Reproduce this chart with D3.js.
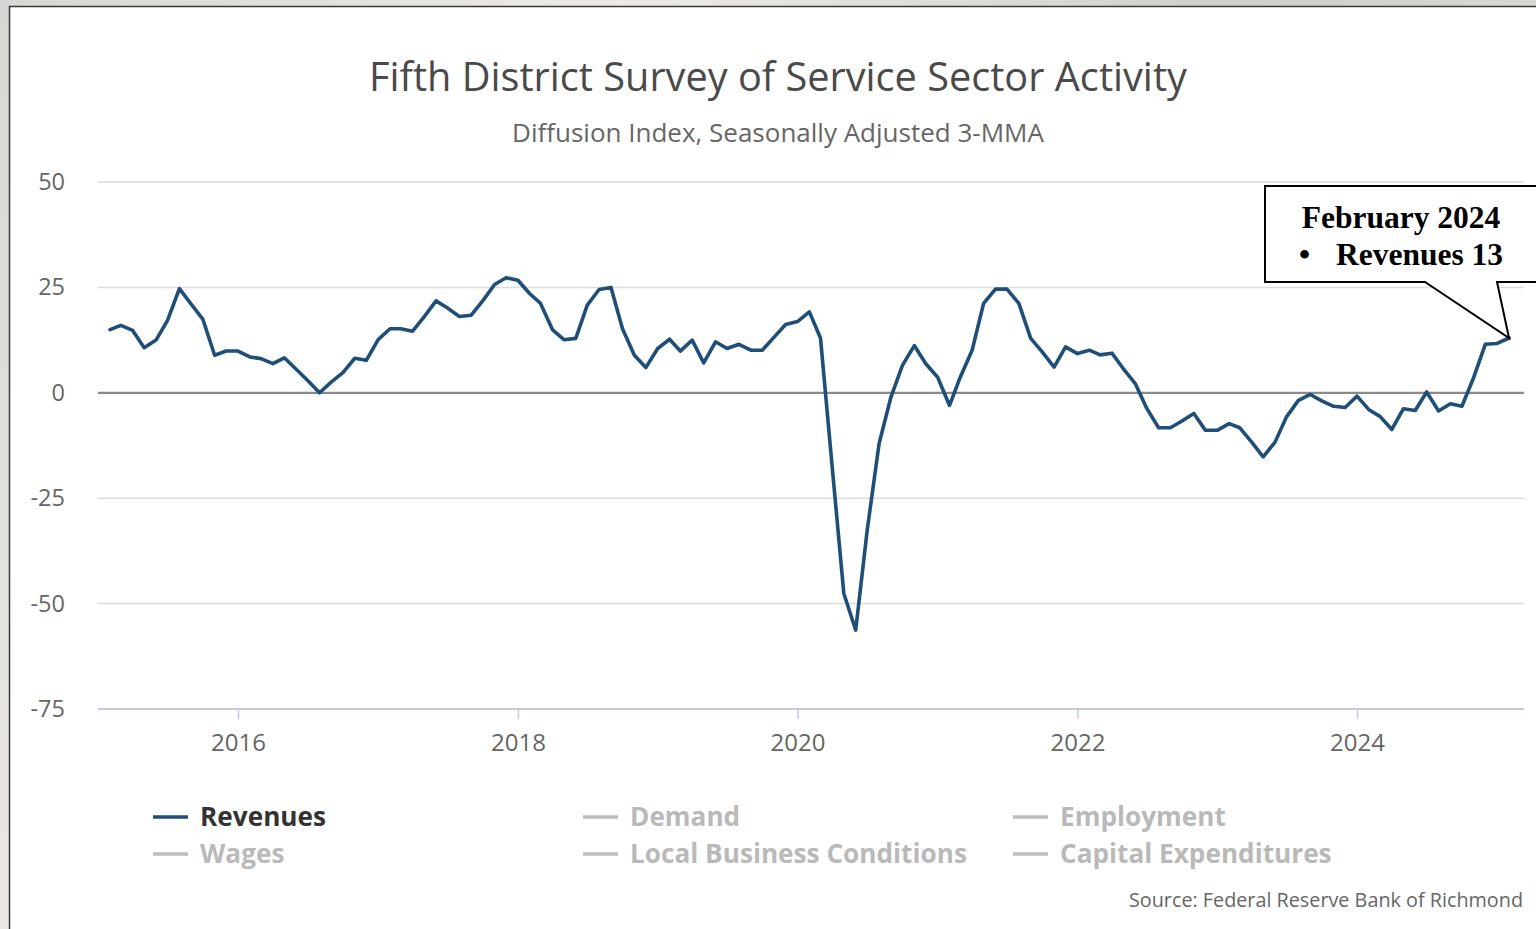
<!DOCTYPE html>
<html>
<head>
<meta charset="utf-8">
<script src="https://cdn.jsdelivr.net/npm/d3@7/dist/d3.min.js"></script>
<style>
  html, body { margin: 0; padding: 0; }
  body { width: 1536px; height: 929px; overflow: hidden;
         background: linear-gradient(120deg, #d6d6d4 0%, #ecebe8 30%, #cfcfcc 60%, #e6e5e2 100%); }
  svg { display: block; }
</style>
</head>
<body>
<svg id="chart" width="1536" height="929"></svg>
<script>
// Monthly Revenues diffusion index (3-month moving average), Feb 2015 – Feb 2025
const startMonth = [2015, 1]; // year, zero-based month (February)
const revenues = [
  15, 16, 14.8, 10.7, 12.5, 17.2, 24.7, 21, 17.5, 8.9, 9.9, 9.9,
  8.5, 8.1, 6.9, 8.3, 5.6, 2.9, 0, 2.6, 4.8, 8.2, 7.7, 12.6,
  15.2, 15.2, 14.6, 18, 21.8, 20.1, 18.1, 18.4, 21.8, 25.7, 27.3, 26.7,
  23.5, 21.2, 15, 12.6, 12.9, 20.8, 24.5, 25, 15.2, 8.9, 6, 10.5,
  12.7, 9.9, 12.5, 7.1, 12.1, 10.5, 11.5, 10.1, 10.1, 13.2, 16.2, 16.9,
  19.2, 13, -18, -47.6, -56.3, -32.6, -12.1, -1, 6.5, 11.2, 6.9, 3.7,
  -3, 3.7, 10.1, 21.2, 24.6, 24.6, 21.2, 12.9, 9.7, 6.1, 10.9, 9.3,
  10.1, 9, 9.4, 5.7, 2.2, -3.7, -8.3, -8.3, -6.7, -4.9, -8.9, -8.9,
  -7.3, -8.3, -11.7, -15.2, -11.7, -5.7, -1.8, -0.4, -1.9, -3.2, -3.5, -0.8,
  -4, -5.6, -8.7, -3.8, -4.2, 0.2, -4.3, -2.6, -3.2, 3.7, 11.5, 11.7,
  13
];
const yTicks = [50, 25, 0, -25, -50, -75];
const xTickYears = [2016, 2018, 2020, 2022, 2024];
const legendRows = [
  ["Revenues", "Demand", "Employment"],
  ["Wages", "Local Business Conditions", "Capital Expenditures"]
];
const activeSeries = "Revenues";
const titleText = "Fifth District Survey of Service Sector Activity";
const subtitleText = "Diffusion Index, Seasonally Adjusted 3-MMA";
const sourceText = "Source: Federal Reserve Bank of Richmond";
const calloutLines = ["February 2024", "Revenues 13"];

const data = revenues.map((v, i) => ({ date: new Date(startMonth[0], startMonth[1] + i, 1), value: v }));

const svg = d3.select("#chart");
const plotLeft = 98, plotRight = 1524;
const lineColor = "#1f4f78";
const sans = "'Open Sans', 'Noto Sans', sans-serif";

// White card
svg.append("rect").attr("x", 9.5).attr("y", 6.5).attr("width", 1540).attr("height", 940)
  .attr("fill", "#ffffff").attr("stroke", "#3a3a3a").attr("stroke-width", 1.5);

const x = d3.scaleTime()
  .domain([new Date(2016, 0, 1), new Date(2024, 0, 1)])
  .range([238, 1357]);
const y = d3.scaleLinear().domain([-75, 50]).range([709, 182]);

// Title block
svg.append("text").attr("x", 778).attr("y", 91).attr("text-anchor", "middle")
  .attr("font-family", sans).attr("font-size", 39.7).attr("fill", "#4a4a4a").text(titleText);
svg.append("text").attr("x", 778).attr("y", 142).attr("text-anchor", "middle")
  .attr("font-family", sans).attr("font-size", 26).attr("fill", "#666666").text(subtitleText);

// Horizontal grid + y labels
const grid = svg.append("g");
yTicks.forEach(t => {
  if (t !== -75) {
    grid.append("line").attr("x1", plotLeft).attr("x2", plotRight)
      .attr("y1", y(t)).attr("y2", y(t))
      .attr("stroke", t === 0 ? "#8a8a8a" : "#dcdcdc")
      .attr("stroke-width", t === 0 ? 2.2 : 1.5);
  }
  grid.append("text").attr("x", 65).attr("y", y(t) + 8).attr("text-anchor", "end")
    .attr("font-family", sans).attr("font-size", 23.5).attr("fill", "#666666")
    .text(t);
});

// X axis
const xAxis = d3.axisBottom(x)
  .tickValues(xTickYears.map(yr => new Date(yr, 0, 1)))
  .tickFormat(d3.timeFormat("%Y"))
  .tickSize(10).tickSizeOuter(0);
const gx = svg.append("g").attr("transform", `translate(0,${y(-75)})`).call(xAxis);
gx.select(".domain").remove();
gx.selectAll(".tick line").attr("stroke", "#c3cbe0").attr("stroke-width", 1.5);
gx.selectAll(".tick text").attr("font-family", sans).attr("font-size", 24)
  .attr("fill", "#666666").attr("dy", 0).attr("y", 42);
svg.append("line").attr("x1", plotLeft).attr("x2", plotRight)
  .attr("y1", y(-75)).attr("y2", y(-75)).attr("stroke", "#c3cbe0").attr("stroke-width", 1.8);

// Revenues line
const line = d3.line().x(d => x(d.date)).y(d => y(d.value));
svg.append("path").datum(data).attr("d", line)
  .attr("fill", "none").attr("stroke", lineColor).attr("stroke-width", 3.6)
  .attr("stroke-linejoin", "round").attr("stroke-linecap", "round");

// Legend
const legendX = [153, 583, 1013];
const legendY = [817, 854];
legendRows.forEach((row, r) => {
  row.forEach((name, c) => {
    const on = name === activeSeries;
    const g = svg.append("g").attr("transform", `translate(${legendX[c]},${legendY[r]})`);
    g.append("line").attr("x1", 0).attr("x2", 35).attr("y1", 0).attr("y2", 0)
      .attr("stroke", on ? lineColor : "#bdbdbd").attr("stroke-width", 3.5);
    g.append("text").attr("x", 47).attr("y", 9)
      .attr("font-family", sans).attr("font-weight", 700).attr("font-size", 26.2)
      .attr("fill", on ? "#333333" : "#b9b9b9").text(name);
  });
});

// Source
svg.append("text").attr("x", 1523).attr("y", 907).attr("text-anchor", "end")
  .attr("font-family", sans).attr("font-size", 19.8).attr("fill", "#666666").text(sourceText);

// Callout for the latest reading
const last = data[data.length - 1];
const tipX = x(last.date), tipY = y(last.value);
svg.append("path")
  .attr("d", `M1265,186 H1540 V282 H1497 L${tipX},${tipY} L1425,282 H1265 Z`)
  .attr("fill", "#ffffff").attr("stroke", "#000000").attr("stroke-width", 2)
  .attr("stroke-linejoin", "miter");
const serif = "'Liberation Serif', 'Times New Roman', serif";
svg.append("text").attr("x", 1401).attr("y", 228).attr("text-anchor", "middle")
  .attr("font-family", serif).attr("font-weight", 700).attr("font-size", 31.5)
  .attr("fill", "#000").text(calloutLines[0]);
svg.append("text").attr("x", 1299).attr("y", 265)
  .attr("font-family", serif).attr("font-weight", 700).attr("font-size", 31.5)
  .attr("fill", "#000").text("•");
svg.append("text").attr("x", 1336).attr("y", 265)
  .attr("font-family", serif).attr("font-weight", 700).attr("font-size", 31.5)
  .attr("fill", "#000").text(calloutLines[1]);
</script>
</body>
</html>
